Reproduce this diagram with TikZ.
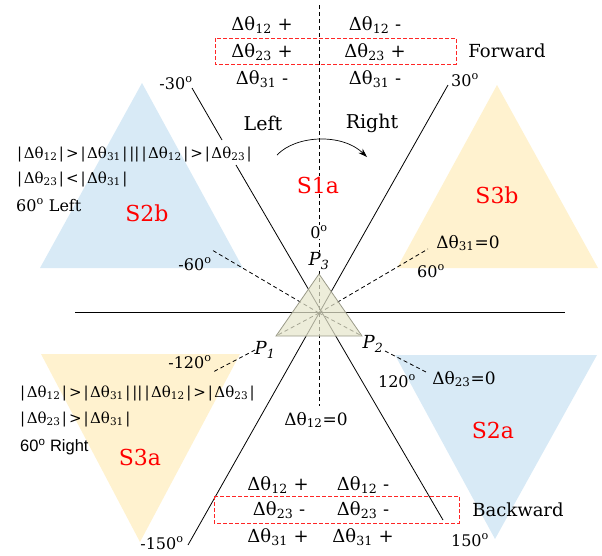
\documentclass[tikz,border=0pt]{standalone}
\usepackage{fontspec}
\setmainfont{DejaVu Serif}
\newfontfamily\sansf{Liberation Sans}
\usetikzlibrary{arrows.meta}
\definecolor{paleblue}{HTML}{D8EAF6}
\definecolor{paleyellow}{HTML}{FFF2CF}
\definecolor{olivefill}{HTML}{E6E6CC}
\definecolor{oliveedge}{HTML}{9A9A88}
\newcommand\dt[1]{Δθ\textsubscript{#1}}
\newcommand\dg{\textsuperscript{o}}
\newcommand\absv[1]{|\kern1.5pt#1\kern1.5pt|}
\newcommand\gap{\kern2pt}
\begin{document}
\begin{tikzpicture}[x=1pt,y=-1pt,
  lbl/.style={inner sep=1pt, font=\fontsize{18}{20}\selectfont},
  ang/.style={inner sep=1pt, font=\fontsize{16}{18}\selectfont},
  sect/.style={text=red, inner sep=1pt, font=\fontsize{22}{24}\selectfont},
  cond/.style={anchor=west, inner sep=0pt, font=\fontsize{15}{17}\selectfont},
  pt/.style={inner sep=1pt, font=\fontsize{18}{20}\selectfont\itshape},
  axis/.style={line width=0.8pt},
  guide/.style={dash pattern=on 4pt off 3pt, line width=0.8pt},
  band/.style={draw=red!85!white, dash pattern=on 4pt off 2pt, line width=1pt}
]
\useasboundingbox (0,0) rectangle (602,555);

% sector triangles
\fill[paleblue]   (142,83) -- (243,268) -- (40,268) -- cycle;   % S2b
\fill[paleyellow] (497,85) -- (598,268) -- (397,268) -- cycle;  % S3b
\fill[paleyellow] (41,354) -- (240,354) -- (140,542) -- cycle;  % S3a
\fill[paleblue]   (395,355) -- (597,355) -- (495,539) -- cycle; % S2a

% key points
\coordinate (O) at (319,313);
\coordinate (P1v) at (276,336);
\coordinate (P2v) at (362,336);
\coordinate (P3v) at (319,274);

% sector boundaries
\coordinate (m30a) at (192,88);  \coordinate (m30b) at (222,140);
\coordinate (m30c) at (236,165); \coordinate (p150) at (443,520);
\coordinate (p30) at (448,85);   \coordinate (m150) at (188,545);
\coordinate (hL) at (75,312);    \coordinate (hR) at (565,312);
\draw[axis] (m30a) -- (m30b);
\draw[axis] (m30c) -- (p150);
\draw[axis] (p30) -- (m150);
\draw[axis] (hL) -- (hR);

% direction guides
\coordinate (vTop) at (319,5);   \coordinate (vBot) at (319,406);
\coordinate (g60) at (428,249);  \coordinate (gm60) at (212,250);
\coordinate (g120a) at (385,351); \coordinate (g120b) at (428,373);
\coordinate (gm120a) at (255,350); \coordinate (gm120b) at (213,372);
\draw[guide] (vTop) -- (vBot);
\draw[guide] (O) -- (g60);
\draw[guide] (O) -- (gm60);
\draw[guide] (O) -- (P1v);
\draw[guide] (O) -- (P2v);
\draw[guide] (g120a) -- (g120b);
\draw[guide] (gm120a) -- (gm120b);

% robot triangle
\filldraw[fill=olivefill, fill opacity=0.72, draw=oliveedge, line width=0.8pt]
  (P1v) -- (P2v) -- (P3v) -- cycle;

% forward / backward bands
\draw[band] (215,38) rectangle (456,64);
\draw[band] (214,496) rectangle (459,523);

% table of signs, forward
\node[lbl] (f12l) at (262,25) {\dt{12} +};
\node[lbl] (f12r) at (375,25) {\dt{12} -};
\node[lbl] (f23l) at (262,52) {\dt{23} +};
\node[lbl] (f23r) at (375,52) {\dt{23} +};
\node[lbl] (f31l) at (262,79) {\dt{31} -};
\node[lbl] (f31r) at (375,79) {\dt{31} -};
\node[lbl] (fwd) at (507,51) {Forward};

% table of signs, backward
\node[lbl] (b12l) at (278,485) {\dt{12} +};
\node[lbl] (b12r) at (363,485) {\dt{12} -};
\node[lbl] (b23l) at (279,510) {\dt{23} -};
\node[lbl] (b23r) at (363,510) {\dt{23} -};
\node[lbl] (b31l) at (278,537) {\dt{31} +};
\node[lbl] (b31r) at (363,537) {\dt{31} +};
\node[lbl] (bwd) at (518,510) {Backward};

% angle labels
\node[ang] (am30) at (176,83) {-30\dg};
\node[ang] (a30) at (465,80) {30\dg};
\node[ang] (am150) at (162,543) {-150\dg};
\node[ang] (a150) at (470,540) {150\dg};
\node[ang, fill=white] (a0) at (319,232) {0\dg};
\node[ang] (am60) at (195,264) {-60\dg};
\node[ang] (a60) at (431,271) {60\dg};
\node[ang] (am120) at (190,362) {-120\dg};
\node[ang] (a120) at (397,381) {120\dg};

% zero-difference labels
\node[ang, font=\fontsize{17}{19}\selectfont] (z31) at (468,243) {\dt{31}=0};
\node[ang, font=\fontsize{17}{19}\selectfont] (z23) at (464,379) {\dt{23}=0};
\node[ang, font=\fontsize{17}{19}\selectfont] (z12) at (316,420) {\dt{12}=0};

% vertices
\node[pt, fill=white] (P3) at (319,261) {P\textsubscript{3}};
\node[pt] (P2) at (373,344) {P\textsubscript{2}};
\node[pt] (P1) at (265,350) {P\textsubscript{1}};

% turning direction
\node[ang, font=\fontsize{19}{21}\selectfont] (left) at (263,123) {Left};
\node[ang, font=\fontsize{19}{21}\selectfont] (right) at (372,123) {Right};
\coordinate (arcL) at (277,155);
\coordinate (arcR) at (367,157);
\draw[line width=0.7pt, -{Stealth[length=9pt,width=6pt]}]
  (arcL) .. controls (296,135) and (342,133) .. (arcR);

% sector names
\node[sect, fill=white] (s1a) at (318,185) {S1a};
\node[sect] (s2b) at (147,213) {S2b};
\node[sect] (s3b) at (497,195) {S3b};
\node[sect] (s3a) at (140,457) {S3a};
\node[sect] (s2a) at (493,430) {S2a};

% switching conditions
\node[cond] (c1) at (17,154)
  {\absv{\dt{12}}\gap>\gap\absv{\dt{31}}\gap||\gap\absv{\dt{12}}\gap>\gap\absv{\dt{23}}};
\node[cond] (c2) at (17,179) {\absv{\dt{23}}\gap<\gap\absv{\dt{31}}};
\node[cond, font=\fontsize{16}{18}\selectfont] (c3) at (16,205) {60\dg{} Left};
\node[cond] (c4) at (20,393)
  {\absv{\dt{12}}\gap>\gap\absv{\dt{31}}\gap||\gap\absv{\dt{12}}\gap>\gap\absv{\dt{23}}};
\node[cond] (c5) at (20,419) {\absv{\dt{23}}\gap>\gap\absv{\dt{31}}};
\node[cond, font=\fontsize{16.5}{18}\selectfont\sansf] (c6) at (20,447) {60\dg{} Right};
\end{tikzpicture}
\end{document}
